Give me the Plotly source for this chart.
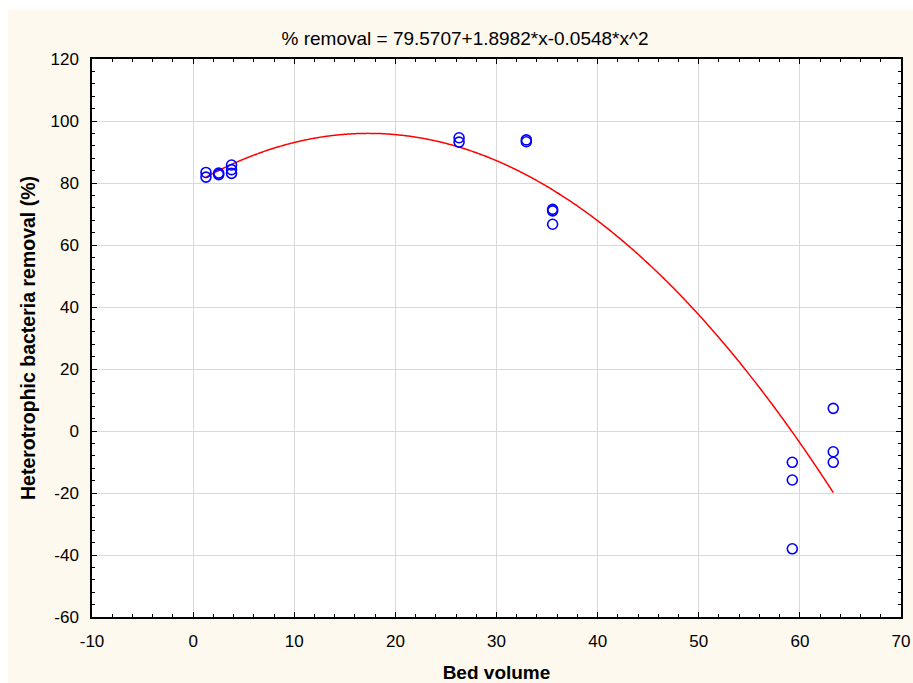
import numpy as np
import plotly.graph_objects as go

# Observed data (bed volume, % removal)
bed_volume = [1.27, 1.27, 2.53, 2.53, 3.8, 3.8, 3.8,
              26.3, 26.3, 32.95, 32.95, 35.55, 35.55, 35.55,
              59.25, 59.25, 59.25, 63.3, 63.3, 63.3]
removal = [83.4, 81.9, 83.2, 82.7, 85.8, 84.3, 83.1,
           94.6, 93.2, 93.9, 93.3, 71.5, 71.0, 66.7,
           -10.1, -15.8, -38.0, 7.3, -6.7, -10.1]

# Fitted quadratic coefficients shown in the title (c0, c1, c2)
fit_coef = [79.5707, 1.8982, -0.0548]
fit_range = [1.27, 63.3]

title_text = "% removal = 79.5707+1.8982*x-0.0548*x^2"
x_ticks = [-10, 0, 10, 20, 30, 40, 50, 60, 70]
x_ticktext = ["-10", "0", "10", "20", "30", "40", "50", "60", "70"]
y_ticks = [-60, -40, -20, 0, 20, 40, 60, 80, 100, 120]
y_ticktext = ["-60", "-40", "-20", "0", "20", "40", "60", "80", "100", "120"]

xf = np.linspace(fit_range[0], fit_range[1], 400)
yf = fit_coef[0] + fit_coef[1] * xf + fit_coef[2] * xf ** 2

fig = go.Figure()
fig.add_trace(go.Scatter(x=xf, y=yf, mode="lines",
                         line=dict(color="#FF0000", width=1.5, shape="spline"),
                         hoverinfo="skip", showlegend=False))
fig.add_trace(go.Scatter(x=bed_volume, y=removal, mode="markers",
                         marker=dict(symbol="circle-open", size=10,
                                     color="#0000FF",
                                     line=dict(color="#0000FF", width=1.6)),
                         showlegend=False))

W, H = 913, 683
ml, mr, mt, mb = 92, 12, 59, 66
pw, ph = W - ml - mr, H - mt - mb

font = "Liberation Sans, Arial, sans-serif"
axis_common = dict(
    showline=True, linecolor="black", linewidth=1.5, mirror="allticks",
    ticks="inside", ticklen=5, tickcolor="black", tickwidth=1,
    showgrid=True, gridcolor="#D9D9D9", gridwidth=1,
    zeroline=False, automargin=False,
    tickfont=dict(family=font, size=17, color="black"),
)

fig.update_xaxes(range=[-10, 70], tickvals=x_ticks, ticktext=x_ticktext,
                 ticklabelstandoff=8,
                 minor=dict(dtick=2, ticks="inside", ticklen=3,
                            tickcolor="black", showgrid=False),
                 title=dict(text="<b>Bed volume</b>",
                            font=dict(family=font, size=19, color="black"),
                            standoff=20),
                 **axis_common)
fig.update_yaxes(range=[-60, 120], tickvals=y_ticks, ticktext=y_ticktext,
                 ticklabelstandoff=8,
                 minor=dict(dtick=4, ticks="inside", ticklen=3,
                            tickcolor="black", showgrid=False),
                 title=dict(text="<b>Heterotrophic bacteria removal (%)</b>",
                            font=dict(family=font, size=19.5, color="black"),
                            standoff=10),
                 **axis_common)

cream = "#FDF9EF"
shapes = [
    dict(type="rect", xref="paper", yref="paper", layer="below",
         x0=(0 - ml - 5) / pw, x1=(8 - ml) / pw,
         y0=-(mb + 5) / ph, y1=(ph + mt + 5) / ph,
         fillcolor="white", line=dict(width=0)),
    dict(type="rect", xref="paper", yref="paper", layer="below",
         x0=-(ml + 5) / pw, x1=(pw + mr + 5) / pw,
         y0=(ph + mt - 10) / ph, y1=(ph + mt + 5) / ph,
         fillcolor="white", line=dict(width=0)),
]

fig.update_layout(
    width=W, height=H,
    margin=dict(l=ml, r=mr, t=mt, b=mb),
    paper_bgcolor=cream, plot_bgcolor="white",
    title=dict(text=title_text, x=(465 - ml) / pw, xref="paper",
               xanchor="center", y=1 - 38 / H, yanchor="middle",
               font=dict(family=font, size=19, color="black")),
    shapes=shapes,
    showlegend=False,
)

fig.write_html("out.html",
               config={"displayModeBar": False},
               post_script="document.body.style.margin='0px';"
                           "document.body.style.overflow='hidden';")
